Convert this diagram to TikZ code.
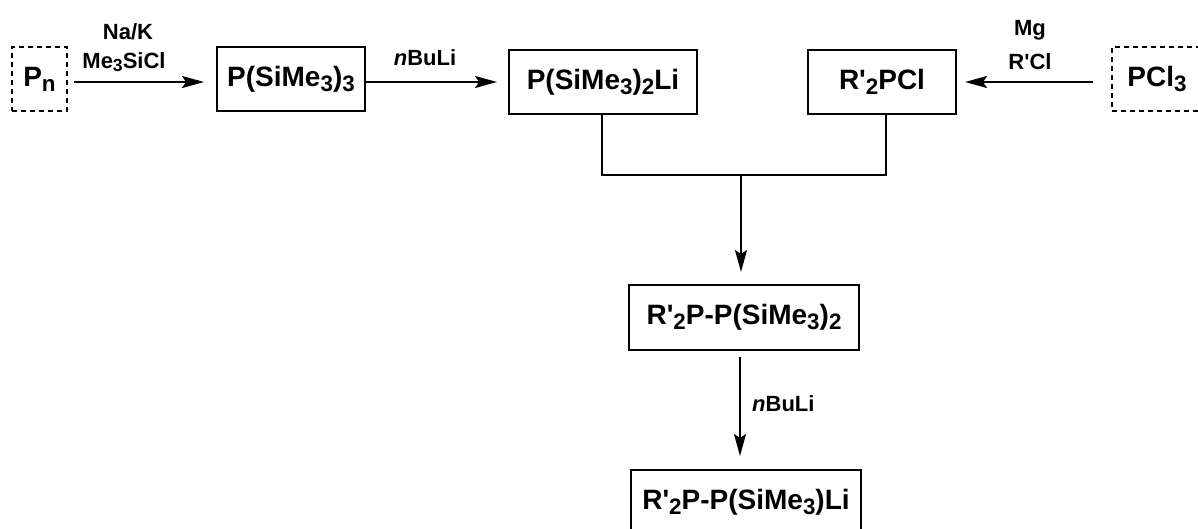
\documentclass[tikz,border=0pt]{standalone}
\usepackage{fontspec}
\setmainfont{Liberation Sans}
\usetikzlibrary{arrows.meta}
% lowered subscript, a little larger than \textsubscript
\newcommand{\sbs}[1]{\raisebox{-0.17em}{\scalebox{0.8}{#1}}}
\newcommand{\pr}{\textquotesingle}
\begin{document}
\begin{tikzpicture}[x=1pt,y=-1pt,
  every node/.style={font=\bfseries},
  compound/.style={draw, line width=1.4pt, minimum height=64pt, inner sep=0pt, font=\fontsize{28}{30}\bfseries\selectfont},
  start/.style={compound, dashed, dash pattern=on 5pt off 4pt},
  product/.style={compound, line width=2.6pt},
  reagent/.style={font=\fontsize{22}{24}\bfseries\selectfont, inner sep=0pt},
  rxn/.style={line width=1.8pt, -{Stealth[length=22pt,width=12pt,inset=4pt]}},
  link/.style={line width=1.4pt}]
\useasboundingbox (0,0) rectangle (1198,528);
\begin{scope}
\clip (0,0) rectangle (1198,528);
% starting materials and intermediates
\node[start, minimum width=55pt] (pn) at (39.5,79) {P\sbs{n}};
\node[compound, minimum width=148pt] (psi3) at (291,79) {P(SiMe\sbs{3})\sbs{3}};
\node[compound, minimum width=188pt] (psi2li) at (603,82) {P(SiMe\sbs{3})\sbs{2}Li};
\node[compound, minimum width=148pt] (rpcl) at (882,82) {R\pr\sbs{2}PCl};
\node[start, minimum width=98pt] (pcl3) at (1161,79) {PCl\sbs{3}\hspace*{8pt}};
\node[compound, minimum width=230pt, minimum height=65pt] (mid) at (744,317.5) {R\pr\sbs{2}P-P(SiMe\sbs{3})\sbs{2}};
\node[product, minimum width=230pt, minimum height=65pt] (final) at (746,502.5) {R\pr\sbs{2}P-P(SiMe\sbs{3})Li};

% reaction arrows
\coordinate (a1s) at (74,82);
\coordinate (a1e) at (204,82);
\draw[rxn] (a1s) -- (a1e);
\node[reagent] (nak) at (128,32) {Na/K};
\node[reagent] (tmscl) at (124,62) {Me\sbs{3}SiCl};

\coordinate (a2s) at (365,82);
\coordinate (a2e) at (497,82);
\draw[rxn] (a2s) -- (a2e);
\node[reagent] (bu1) at (425,58) {\textit{n}BuLi};

\coordinate (a3s) at (1093,82);
\coordinate (a3e) at (965,82);
\draw[rxn] (a3s) -- (a3e);
\node[reagent] (mg) at (1030,30) {Mg};
\node[reagent] (rcl) at (1030,62) {R\pr Cl};

% coupling of the two phosphorus fragments
\coordinate (jl) at (602,175);
\coordinate (jr) at (886,175);
\coordinate (jm) at (741,175);
\draw[link] (602,114) -- (jl) -- (jr) -- (886,114);
\coordinate (a4e) at (741,272);
\draw[rxn] (jm) -- (a4e);

\coordinate (a5s) at (740,357);
\coordinate (a5e) at (740,456);
\draw[rxn] (a5s) -- (a5e);
\node[reagent, anchor=west] (bu2) at (752,404) {\textit{n}BuLi};
\end{scope}
\end{tikzpicture}
\end{document}
